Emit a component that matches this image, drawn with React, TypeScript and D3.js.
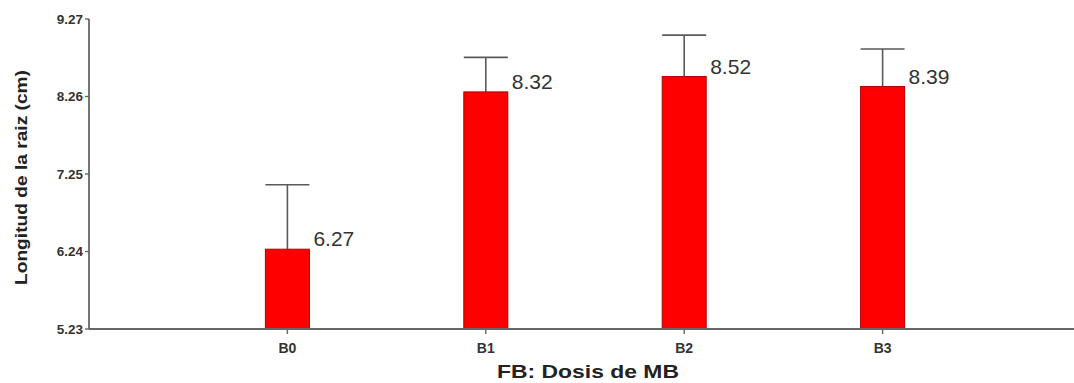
import React from "react";
import * as d3 from "d3";

// Root length by MB dose
const categories = ["B0", "B1", "B2", "B3"];
const means = [6.27, 8.32, 8.52, 8.39];
const upperErrors = [7.11, 8.77, 9.06, 8.88];
const yTicks = [5.23, 6.24, 7.25, 8.26, 9.27];

const W = 1074;
const H = 383;
const axisX = 89;
const axisY = 329;
const topY = 19;
const barW = 44;

export default function App() {
  const y = d3.scaleLinear().domain([5.23, 9.27]).range([axisY, topY]);
  const x = d3.scalePoint<string>().domain(categories).range([axisX, 1081]).padding(1);

  return (
    <svg
      width={W}
      height={H}
      style={{ position: "absolute", left: 0, top: 0, display: "block", background: "#fff" }}
      fontFamily="'Liberation Sans', Arial, sans-serif"
    >
      {/* error bars */}
      {categories.map((c, i) => {
        const cx = x(c)!;
        return (
          <g key={"e" + c} stroke="#5a5a5a" strokeWidth={1.6}>
            <line x1={cx} x2={cx} y1={y(upperErrors[i])} y2={y(means[i])} />
            <line x1={cx - barW / 2} x2={cx + barW / 2} y1={y(upperErrors[i])} y2={y(upperErrors[i])} />
          </g>
        );
      })}
      {/* bars */}
      {categories.map((c, i) => {
        const cx = x(c)!;
        return (
          <rect
            key={"b" + c}
            x={cx - barW / 2}
            y={y(means[i])}
            width={barW}
            height={axisY - y(means[i])}
            fill="#ff0000"
            stroke="#b00000"
            strokeWidth={1}
          />
        );
      })}
      {/* value labels */}
      {categories.map((c, i) => (
        <text
          key={"v" + c}
          x={x(c)! + barW / 2 + 4}
          y={y(means[i]) - 3}
          fontSize={21}
          fill="#333"
        >
          {d3.format(".2f")(means[i])}
        </text>
      ))}
      {/* axes */}
      <line x1={axisX} x2={axisX} y1={topY} y2={axisY} stroke="#666" strokeWidth={1.8} />
      <line x1={axisX} x2={W} y1={axisY} y2={axisY} stroke="#666" strokeWidth={1.8} />
      {yTicks.map((t) => (
        <g key={"t" + t}>
          <line x1={axisX - 4} x2={axisX} y1={y(t)} y2={y(t)} stroke="#666" strokeWidth={1.4} />
          <text
            x={axisX - 6}
            y={y(t)}
            dy="0.35em"
            textAnchor="end"
            fontSize={13.5}
            fontWeight="bold"
            fill="#333"
          >
            {d3.format(".2f")(t)}
          </text>
        </g>
      ))}
      {categories.map((c) => (
        <g key={"x" + c}>
          <line x1={x(c)!} x2={x(c)!} y1={axisY} y2={axisY + 5} stroke="#666" strokeWidth={1.4} />
          <text x={x(c)!} y={353} textAnchor="middle" fontSize={14} fontWeight="bold" fill="#333">
            {c}
          </text>
        </g>
      ))}
      {/* axis titles */}
      <text
        x={588}
        y={378}
        textAnchor="middle"
        fontSize={18}
        fontWeight="bold"
        fill="#222"
        textLength={182}
        lengthAdjust="spacingAndGlyphs"
      >
        FB: Dosis de MB
      </text>
      <text
        transform={`translate(27,${(70 + 285) / 2}) rotate(-90)`}
        textAnchor="middle"
        fontSize={17}
        fontWeight="bold"
        fill="#222"
        textLength={215}
        lengthAdjust="spacingAndGlyphs"
      >
        Longitud de la raiz (cm)
      </text>
    </svg>
  );
}
